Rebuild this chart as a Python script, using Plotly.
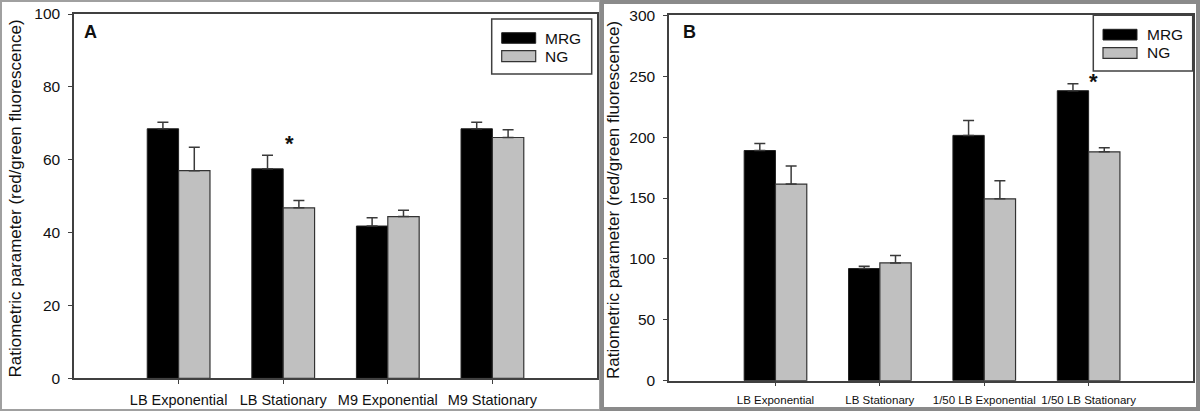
import plotly.graph_objects as go

# ---------------- data ----------------
cats_a = ["LB Exponential", "LB Stationary", "M9 Exponential", "M9 Stationary"]
mrg_a = [68.5, 57.5, 41.8, 68.5]
mrg_a_err = [1.8, 3.7, 2.3, 1.8]
ng_a = [57.0, 46.8, 44.4, 66.1]
ng_a_err = [6.4, 2.0, 1.7, 2.1]

cats_b = ["LB Exponential", "LB Stationary", "1/50 LB Exponential", "1/50 LB Stationary"]
mrg_b = [189.0, 92.1, 201.4, 238.1]
mrg_b_err = [5.8, 1.9, 12.3, 5.7]
ng_b = [161.4, 96.7, 149.3, 187.9]
ng_b_err = [14.8, 6.0, 14.8, 3.3]

yticks_a = [0, 20, 40, 60, 80, 100]
yticks_b = [0, 50, 100, 150, 200, 250, 300]

series_names = ["MRG", "NG"]
ytitle = "Ratiometric parameter (red/green fluorescence)"

# ---------------- style ----------------
W, H = 1200, 411
FONT = "Liberation Sans, Arial, sans-serif"
BLACK = "#000000"
GRAY = "#c0c0c0"
EDGE = "#333333"
AXC = "#404040"
TXT = "#111111"


def px(x):
    return x / W


def py(y):
    return 1 - y / H


def err_style(e):
    return dict(type="data", symmetric=False, array=e, arrayminus=[0] * len(e),
                color="#3a3a3a", thickness=1.5, width=5.5)


fig = go.Figure()

for cats, m, me, n, ne, xa, ya in [
    (cats_a, mrg_a, mrg_a_err, ng_a, ng_a_err, "x", "y"),
    (cats_b, mrg_b, mrg_b_err, ng_b, ng_b_err, "x2", "y2"),
]:
    fig.add_trace(go.Bar(x=cats, y=m, name=series_names[0], xaxis=xa, yaxis=ya,
                         marker=dict(color=BLACK, line=dict(color="#222222", width=1)),
                         error_y=err_style(me), showlegend=False))
    fig.add_trace(go.Bar(x=cats, y=n, name=series_names[1], xaxis=xa, yaxis=ya,
                         marker=dict(color=GRAY, line=dict(color=EDGE, width=1.2)),
                         error_y=err_style(ne), showlegend=False))

axis_common = dict(showline=True, linecolor=AXC, linewidth=1.5, mirror=True,
                   ticks="outside", ticklen=4, tickcolor=AXC, tickwidth=1.2,
                   showgrid=False, zeroline=False, automargin=False)

fig.update_layout(
    width=W, height=H,
    margin=dict(l=0, r=0, t=0, b=0, autoexpand=False),
    paper_bgcolor="white", plot_bgcolor="white",
    barmode="group", bargap=0.4, bargroupgap=0,
    font=dict(family=FONT, color=TXT),
    xaxis=dict(domain=[px(74), px(597)], anchor="y", type="category",
               range=[-1, 4], tickfont=dict(size=14.5, family=FONT, color=TXT),
               tickangle=0, ticklabelstandoff=4, **axis_common),
    yaxis=dict(domain=[py(378.3), py(14)], anchor="x", range=[0, 100],
               tickvals=yticks_a, tickfont=dict(size=15.5, family=FONT, color=TXT),
               ticklabelstandoff=5, **axis_common),
    xaxis2=dict(domain=[px(669), px(1193)], anchor="y2", type="category",
                range=[-1.02, 4.0], tickfont=dict(size=11.5, family=FONT, color=TXT),
                tickangle=0, ticklabelstandoff=4, **axis_common),
    yaxis2=dict(domain=[py(380.7), py(15.3)], anchor="x2", range=[0, 300],
                tickvals=yticks_b, tickfont=dict(size=15.5, family=FONT, color=TXT),
                ticklabelstandoff=5, **axis_common),
)

shapes = []
annotations = []

# panel frames
shapes.append(dict(type="rect", xref="paper", yref="paper", x0=px(1), y0=py(410), x1=px(600), y1=py(1),
                   line=dict(color="#a0a0a0", width=2), fillcolor="rgba(0,0,0,0)", layer="above"))
shapes.append(dict(type="rect", xref="paper", yref="paper", x0=px(602), y0=py(409), x1=px(1198), y1=py(2),
                   line=dict(color="#8a8a8a", width=4), fillcolor="rgba(0,0,0,0)", layer="above"))

# legends
for (bx0, by0, bx1, by1, sx0, sx1, s1y, s2y, tx) in [
    (491.7, 19, 591.7, 74, 501.7, 535.7, (32.7, 43.3), (50.7, 61.7), 542.7),
    (1093.3, 15.3, 1192.7, 71, 1103, 1137, (29.3, 40), (47.7, 58.3), 1145),
]:
    shapes.append(dict(type="rect", xref="paper", yref="paper", x0=px(bx0), y0=py(by1), x1=px(bx1), y1=py(by0),
                       line=dict(color=AXC, width=1.5), fillcolor="white", layer="above"))
    shapes.append(dict(type="rect", xref="paper", yref="paper", x0=px(sx0), y0=py(s1y[1]), x1=px(sx1), y1=py(s1y[0]),
                       line=dict(color="#222222", width=1), fillcolor=BLACK, layer="above"))
    shapes.append(dict(type="rect", xref="paper", yref="paper", x0=px(sx0), y0=py(s2y[1]), x1=px(sx1), y1=py(s2y[0]),
                       line=dict(color=EDGE, width=1.2), fillcolor=GRAY, layer="above"))
    for name, sy in zip(series_names, [s1y, s2y]):
        annotations.append(dict(xref="paper", yref="paper", x=px(tx), y=py((sy[0] + sy[1]) / 2),
                                text=name, showarrow=False, xanchor="left", yanchor="middle",
                                font=dict(size=15.5, family=FONT, color=TXT)))

# panel letters
for letter, lx in [("A", 82), ("B", 680.7)]:
    annotations.append(dict(xref="paper", yref="paper", x=px(lx), y=py(32.5), text="<b>" + letter + "</b>",
                            showarrow=False, xanchor="left", yanchor="middle",
                            font=dict(size=18, family=FONT, color=TXT)))

# y titles
for tx, ty in [(15, 198.5), (613, 200)]:
    annotations.append(dict(xref="paper", yref="paper", x=px(tx), y=py(ty), text=ytitle,
                            showarrow=False, textangle=-90, xanchor="center", yanchor="middle",
                            font=dict(size=17, family=FONT, color=TXT)))

# significance stars
annotations.append(dict(xref="x", yref="y", x=cats_a[1], y=64.5, text="<b>*</b>", showarrow=False,
                        xanchor="center", yanchor="middle", xshift=6, yshift=0,
                        font=dict(size=22, family=FONT, color=TXT)))
annotations.append(dict(xref="x2", yref="y2", x=cats_b[3], y=245.9, text="<b>*</b>", showarrow=False,
                        xanchor="center", yanchor="middle", xshift=4.5, yshift=0,
                        font=dict(size=22, family=FONT, color=TXT)))

fig.update_layout(shapes=shapes, annotations=annotations)
fig.write_html("out.html", config={"displayModeBar": False},
               post_script="document.body.style.margin='0';document.body.style.overflow='hidden';")
